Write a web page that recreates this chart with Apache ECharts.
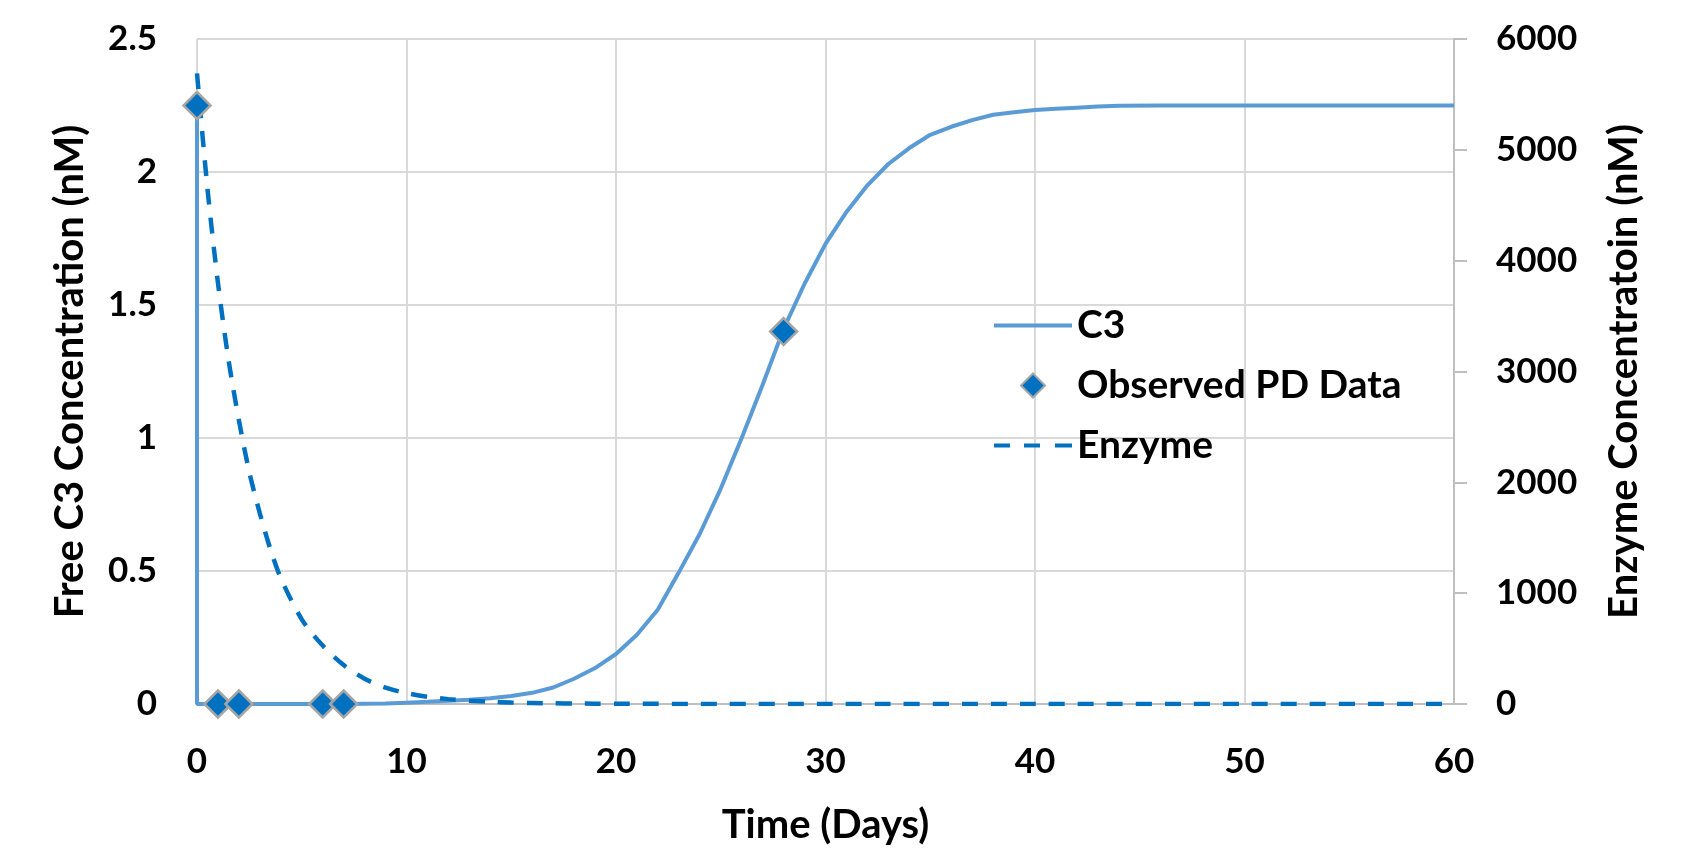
<!DOCTYPE html>
<html>
<head>
<meta charset="utf-8">
<script src="https://cdn.jsdelivr.net/npm/echarts@6/dist/echarts.min.js"></script>
<style>
html,body{margin:0;padding:0;background:#fff;}
#chart{width:1693px;height:850px;}
</style>
</head>
<body>
<div id="chart"></div>
<script>
// Time (days) and free C3 concentration (nM) - model curve
var c3Days = [0,0,1,2,3,4,5,6,7,8,9,10,11,12,13,14,15,16,17,18,19,20,21,22,23,24,25,26,27,28,29,30,31,32,33,34,35,36,37,38,39,40,41,42,43,44,46,48,50,52,54,56,58,60];
var c3Values = [2.25,0,0,0,0,0,0,0,0,0.001,0.002,0.005,0.008,0.012,0.016,0.022,0.030,0.042,0.062,0.095,0.135,0.188,0.26,0.355,0.495,0.64,0.81,1.0,1.2,1.41,1.58,1.73,1.85,1.95,2.03,2.09,2.14,2.17,2.195,2.215,2.225,2.233,2.238,2.242,2.246,2.249,2.25,2.25,2.25,2.25,2.25,2.25,2.25,2.25];

// Observed PD data
var obsDays = [0,1,2,6,7,28];
var obsValues = [2.25,0,0,0,0,1.4];

// Enzyme concentration (nM) - right axis
var enzDays = [0,0.5,1,1.5,2,2.5,3,3.5,4,5,6,7,8,9,10,11,12,13,14,15,16,17,18,19,20,25,30,40,50,60];
var enzValues = [5690,4650,3800,3110,2560,2090,1720,1400,1136,764,527,351,228,147,98,65,44,30,20,13,9,6,4,3,2,0.5,0,0,0,0];

var xTicks = {min:0,max:60,interval:10};
var leftTicks = {min:0,max:2.5,interval:0.5};
var rightTicks = {min:0,max:6000,interval:1000};

function zip(a,b){var r=[];for(var i=0;i<a.length;i++){r.push([a[i],b[i]]);}return r;}

var FONT = 'Lato';
var FS = 35;     // tick labels
var FT = 40;     // axis titles
var FL = 39;     // legend
var chart = echarts.init(document.getElementById('chart'));
chart.setOption({
  backgroundColor:'#ffffff',
  animation:false,
  textStyle:{fontFamily:FONT,fontWeight:'bold',color:'#000'},
  grid:{left:197,right:239,top:39,bottom:146,containLabel:false},
  legend:{
    orient:'vertical',left:994,top:306,padding:0,
    itemWidth:78,itemHeight:24,itemGap:21,itemTextGap:10,
    symbolKeepAspect:true,
    data:[
      {name:'C3',icon:'path://M0 0 H78 V4 H0 Z'},
      {name:'Observed PD Data',icon:'path://M12 0 L24 12 L12 24 L0 12 Z'},
      {name:'Enzyme',icon:'path://M0 0 H16 V4 H0 Z M30 0 H46 V4 H30 Z M61 0 H78 V4 H61 Z'}
    ],
    textStyle:{fontFamily:FONT,fontWeight:'bold',fontSize:FL,color:'#000'}
  },
  xAxis:{
    type:'value',min:xTicks.min,max:xTicks.max,interval:xTicks.interval,
    name:'Time (Days)',nameLocation:'middle',nameGap:101,
    nameTextStyle:{fontFamily:FONT,fontWeight:'bold',fontSize:FT,color:'#000'},
    axisLine:{show:true,lineStyle:{color:'#bfbfbf',width:2}},
    axisTick:{show:false},
    axisLabel:{fontFamily:FONT,fontWeight:'bold',fontSize:FS,color:'#000',margin:40},
    splitLine:{show:true,lineStyle:{color:'#d9d9d9',width:2}}
  },
  yAxis:[{
    type:'value',min:leftTicks.min,max:leftTicks.max,interval:leftTicks.interval,
    name:'Free C3 Concentration (nM)',nameLocation:'middle',nameGap:107,
    nameTextStyle:{fontFamily:FONT,fontWeight:'bold',fontSize:FT,color:'#000'},
    axisLine:{show:false},axisTick:{show:false},
    axisLabel:{fontFamily:FONT,fontWeight:'bold',fontSize:FS,color:'#000',margin:40},
    splitLine:{show:true,lineStyle:{color:'#d9d9d9',width:2}}
  },{
    type:'value',position:'right',min:rightTicks.min,max:rightTicks.max,interval:rightTicks.interval,
    name:'Enzyme Concentratoin (nM)',nameLocation:'middle',nameGap:150,
    nameTextStyle:{fontFamily:FONT,fontWeight:'bold',fontSize:FT,color:'#000'},
    axisLine:{show:true,lineStyle:{color:'#bfbfbf',width:2}},
    axisTick:{show:true,inside:false,length:13,lineStyle:{color:'#bfbfbf',width:2}},
    axisLabel:{fontFamily:FONT,fontWeight:'bold',fontSize:FS,color:'#000',margin:42,
      formatter:function(v){return String(v);}},
    splitLine:{show:false}
  }],
  series:[{
    name:'C3',type:'line',yAxisIndex:0,data:zip(c3Days,c3Values),
    symbol:'none',smooth:false,
    lineStyle:{color:'#5b9bd5',width:4},itemStyle:{color:'#5b9bd5'},z:2
  },{
    name:'Enzyme',type:'line',yAxisIndex:1,data:zip(enzDays,enzValues),
    symbol:'none',smooth:0.3,
    lineStyle:{color:'#0070c0',width:4.5,type:[16,13]},itemStyle:{color:'#0070c0'},z:3
  },{
    name:'Observed PD Data',type:'scatter',yAxisIndex:0,data:zip(obsDays,obsValues),
    symbol:'diamond',symbolSize:27,
    itemStyle:{color:'#0070c0',borderColor:'#a5a5a5',borderWidth:2.5,opacity:1},z:5
  }]
});
</script>
</body>
</html>
